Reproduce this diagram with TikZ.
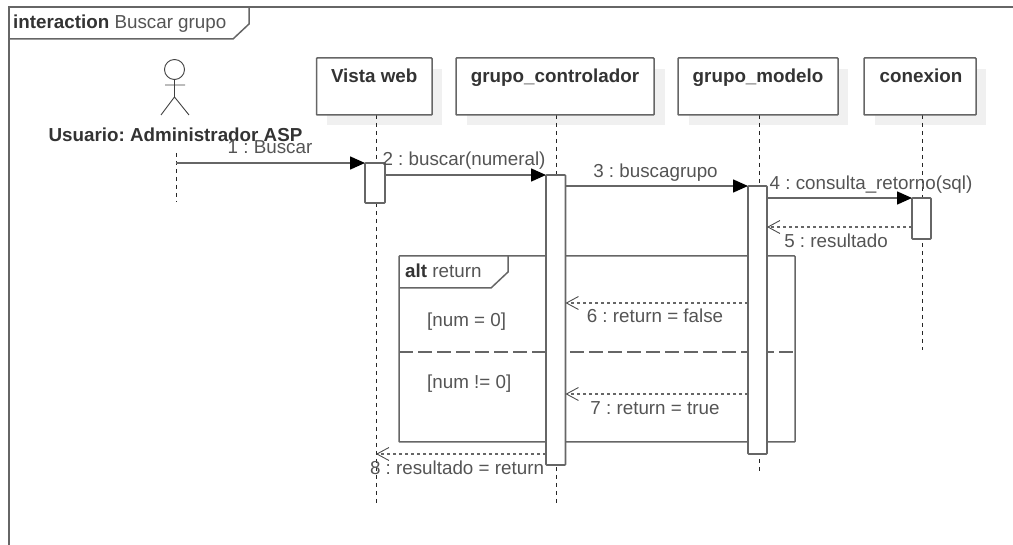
\documentclass[tikz,border=0pt]{standalone}
\usepackage{fontspec}
\setmainfont{Liberation Sans}
\usetikzlibrary{arrows.meta}
\definecolor{ln}{gray}{0.40}
\definecolor{tx}{gray}{0.33}
\frenchspacing
\tikzset{
 x=1pt,y=-1pt,
 lifebox/.style={draw=ln,line width=1.5pt,fill=white,rounded corners=0.8pt},
 shadowbox/.style={fill=black!6,draw=none},
 lifeline/.style={draw=black!85,line width=1pt,dash pattern=on 4pt off 4pt},
 activation/.style={draw=ln,line width=1.6pt,fill=white,rounded corners=0.8pt},
 sync/.style={draw=ln,line width=1.6pt,-{Triangle[length=15pt,width=13pt,black]}},
 reply/.style={draw=ln,line width=1.6pt,dash pattern=on 3pt off 3pt,-{Straight Barb[length=12pt,width=13pt,black!70,line width=0.9pt]}},
 frameline/.style={draw=ln,line width=1.5pt},
 lbl/.style={text=tx,font=\fontsize{18.8}{20}\selectfont,inner sep=0pt,anchor=base},
 head/.style={text=black!80,font=\fontsize{18.8}{20}\selectfont\bfseries,inner sep=0pt,anchor=base},
}
\begin{document}
\begin{tikzpicture}
\useasboundingbox (0,0) rectangle (1013,545);
% outer frame
\coordinate (ftl) at (9,7);
\coordinate (ftr) at (1013,7);
\coordinate (fbl) at (9,545);
\draw[frameline] (ftr) -- (ftl) -- (fbl);
\coordinate (t1) at (249,7);
\coordinate (t2) at (249,24);
\coordinate (t3) at (233,39);
\coordinate (t4) at (9,39);
\draw[frameline] (t1) -- (t2) -- (t3) -- (t4);
\node[lbl,anchor=base west] (title) at (13,29) {\textcolor{black!80}{\textbf{interaction}} Buscar grupo};
% shadows
\fill[shadowbox] (327,69) rectangle (442,125);
\fill[shadowbox] (467,69) rectangle (665,125);
\fill[shadowbox] (689,69) rectangle (848,125);
\fill[shadowbox] (875,69) rectangle (986,125);
% lifeline coordinates
\coordinate (la) at (176,153);
\coordinate (lae) at (176,202);
\coordinate (lv) at (376,115);
\coordinate (lve) at (376,506);
\coordinate (lc) at (556.5,115);
\coordinate (lce) at (556.5,506);
\coordinate (lm) at (759,115);
\coordinate (lme) at (759,471);
\coordinate (lx) at (922.5,115);
\coordinate (lxe) at (922.5,350);
\draw[lifeline] (la) -- (lae);
\draw[lifeline] (lv) -- (lve);
\draw[lifeline] (lc) -- (lce);
\draw[lifeline] (lm) -- (lme);
\draw[lifeline] (lx) -- (lxe);
% heads
\draw[lifebox] (316.5,58) rectangle (432,115);
\draw[lifebox] (456,58) rectangle (654,115);
\draw[lifebox] (678,58) rectangle (838,115);
\draw[lifebox] (864,58) rectangle (976,115);
\node[head] (nv) at (374.2,83) {Vista web};
\node[head] (nc) at (555,83) {grupo\_controlador};
\node[head] (nm) at (758,83) {grupo\_modelo};
\node[head] (nx) at (921,83) {conexion};
% actor
\coordinate (ah) at (174.5,69.5);
\draw[draw=black!75,line width=0.9pt,fill=white] (ah) circle (10);
\coordinate (an) at (174.5,79.5);
\coordinate (ahip) at (174.5,97);
\coordinate (aal) at (165,85);
\coordinate (aar) at (185,85);
\coordinate (afl) at (161,115);
\coordinate (afr) at (189,115);
\draw[black!75,line width=0.9pt] (an) -- (ahip) (aal) -- (aar) (afl) -- (ahip) -- (afr);
\node[head] (nu) at (175.5,141.5) {Usuario: Administrador ASP};
% alt
\draw[frameline,rounded corners=0.6pt] (399,256) rectangle (795,442);
\coordinate (b1) at (508,256);
\coordinate (b2) at (508,272);
\coordinate (b3) at (491,288);
\coordinate (b4) at (399,288);
\draw[frameline] (b1) -- (b2) -- (b3) -- (b4);
\coordinate (d1) at (399,352);
\coordinate (d2) at (795,352);
\draw[draw=ln,line width=1.5pt,dash pattern=on 14pt off 5pt] (d1) -- (d2);
\node[lbl,anchor=base west] (nalt) at (405,278) {\textcolor{black!80}{\textbf{alt}} return};
\node[lbl,anchor=base west] (g1) at (427,327) {[num = 0]};
\node[lbl,anchor=base west] (g2) at (427,389) {[num != 0]};
% activations
\draw[activation] (365,163) rectangle (385,203);
\draw[activation] (546,175) rectangle (565.5,465);
\draw[activation] (748,186) rectangle (767,454);
\draw[activation] (912,198) rectangle (931,239);
% messages
\coordinate (m1a) at (176,163);
\coordinate (m1b) at (365,163);
\coordinate (m2a) at (385,175);
\coordinate (m2b) at (546,175);
\coordinate (m3a) at (565.5,186);
\coordinate (m3b) at (748,186);
\coordinate (m4a) at (767,198);
\coordinate (m4b) at (912,198);
\coordinate (m5a) at (912,227);
\coordinate (m5b) at (767,227);
\coordinate (m6a) at (748,303);
\coordinate (m6b) at (565.5,303);
\coordinate (m7a) at (748,394);
\coordinate (m7b) at (565.5,394);
\coordinate (m8a) at (546,454);
\coordinate (m8b) at (376,454);
\draw[sync] (m1a) -- (m1b);
\draw[sync] (m2a) -- (m2b);
\draw[sync] (m3a) -- (m3b);
\draw[sync] (m4a) -- (m4b);
\draw[reply] (m5a) -- (m5b);
\draw[reply] (m6a) -- (m6b);
\draw[reply] (m7a) -- (m7b);
\draw[reply] (m8a) -- (m8b);
\node[lbl] (l1) at (270,154) {1 : Buscar};
\node[lbl] (l2) at (464,166) {2 : buscar(numeral)};
\node[lbl] (l3) at (655.5,178) {3 : buscagrupo};
\node[lbl] (l4) at (871,190) {4 : consulta\_retorno(sql)};
\node[lbl] (l5) at (836,248) {5 : resultado};
\node[lbl] (l6) at (655,323) {6 : return = false};
\node[lbl] (l7) at (655,415) {7 : return = true};
\node[lbl] (l8) at (457,475) {8 : resultado = return};
\end{tikzpicture}
\end{document}
